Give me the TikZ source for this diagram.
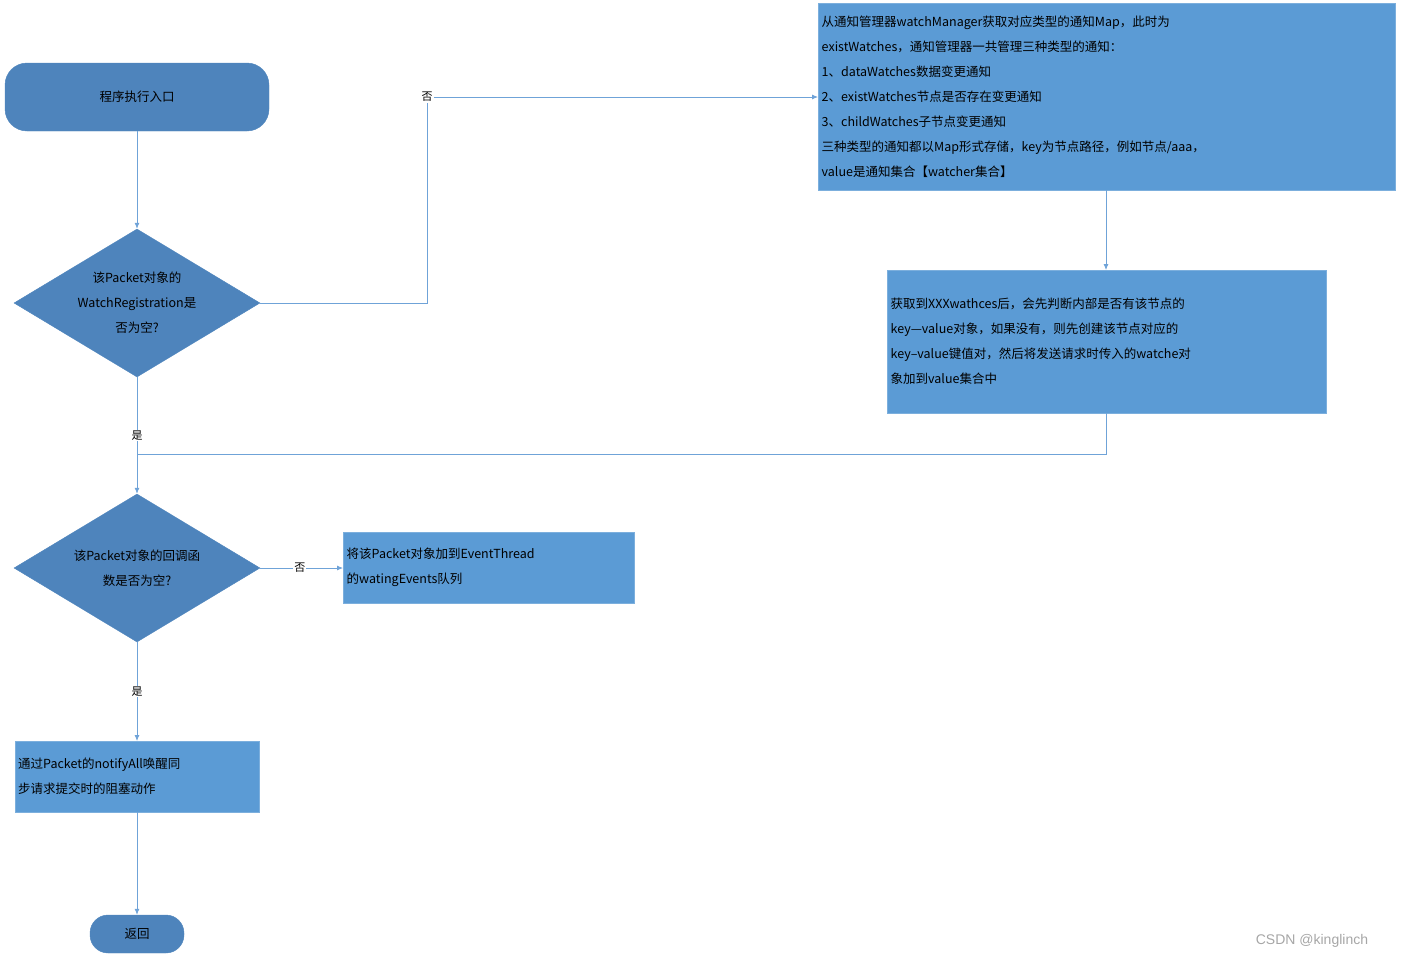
\documentclass[tikz,border=0pt]{standalone}
\usepackage{fontspec}
\setmainfont{Noto Sans CJK SC}
\newfontfamily\wmfont{Liberation Sans}
\usetikzlibrary{shapes.geometric,arrows.meta}
\definecolor{boxc}{HTML}{5B9BD5}
\definecolor{darkc}{HTML}{4E84BC}
\definecolor{linec}{HTML}{6FA3D8}
\begin{document}
\begin{tikzpicture}[x=1pt,y=-1pt,
  txt/.style={font=\fontsize{12.5}{25}\selectfont,text=black},
  box/.style={draw=boxc!80!white,fill=boxc,inner sep=3pt,txt,align=left,anchor=north west},
  term/.style={draw=darkc,fill=darkc,rounded corners=22pt,txt,minimum height=68pt},
  dia/.style={diamond,fill=darkc,draw=darkc,aspect=1.66,txt,align=center,inner sep=0pt,minimum width=246pt,minimum height=148pt},
  conn/.style={draw=linec,line width=0.8pt,-{Latex[length=6pt,width=5pt]}},
  lab/.style={font=\fontsize{11}{13}\selectfont,fill=white,inner sep=1pt}]
\useasboundingbox (0,0) rectangle (1401,961);
\node[term,minimum width=264pt] (start) at (137,97) {程序执行入口};
\node[dia] (d1) at (137,303) {该Packet对象的\\WatchRegistration是\\否为空?};
\node[box,minimum width=577pt,minimum height=187pt,text width=570pt] (b1) at (818,3) {从通知管理器watchManager获取对应类型的通知Map，此时为\\existWatches，通知管理器一共管理三种类型的通知：\\1、dataWatches数据变更通知\\2、existWatches节点是否存在变更通知\\3、childWatches子节点变更通知\\三种类型的通知都以Map形式存储，key为节点路径，例如节点/aaa，\\value是通知集合【watcher集合】};
\node[box,minimum width=439pt,minimum height=143pt,text width=432pt] (b2) at (887,270) {获取到XXXwathces后，会先判断内部是否有该节点的\\key—value对象，如果没有，则先创建该节点对应的\\key--value键值对，然后将发送请求时传入的watche对\\象加到value集合中};
\node[dia] (d2) at (137,568) {该Packet对象的回调函\\数是否为空?};
\node[box,minimum width=291pt,minimum height=71pt,text width=284pt] (b3) at (343,532) {将该Packet对象加到EventThread\\的watingEvents队列};
\node[box,minimum width=244pt,minimum height=71pt,text width=238pt] (b4) at (15,741) {通过Packet的notifyAll唤醒同\\步请求提交时的阻塞动作};
\node[term,minimum width=94pt,minimum height=38pt,rounded corners=18pt] (end) at (137,934) {返回};
\coordinate (j1) at (137,454);
\draw[conn] (start) -- (d1);
\draw[conn] (d1.east) -- (427,303) |- (b1.west |- 0,97) node[lab,pos=0.5] {否};
\draw[conn] (b1.south -| 1106,0) -- (b2.north -| 1106,0);
\draw[draw=linec,line width=0.8pt] (b2.south -| 1106,0) |- (j1);
\draw[conn] (d1.south) -- node[lab,pos=0.5] {是} (d2.north);
\draw[conn] (d2.east) -- node[lab,pos=0.48] {否} (b3.west |- d2.east);
\draw[conn] (d2.south) -- node[lab,pos=0.5] {是} (b4.north -| d2.south);
\draw[conn] (b4.south -| end.north) -- (end.north);
\node[font=\wmfont\fontsize{14}{16}\selectfont,text=gray!70] (wm) at (1312,941) {CSDN @kinglinch};
\end{tikzpicture}
\end{document}
